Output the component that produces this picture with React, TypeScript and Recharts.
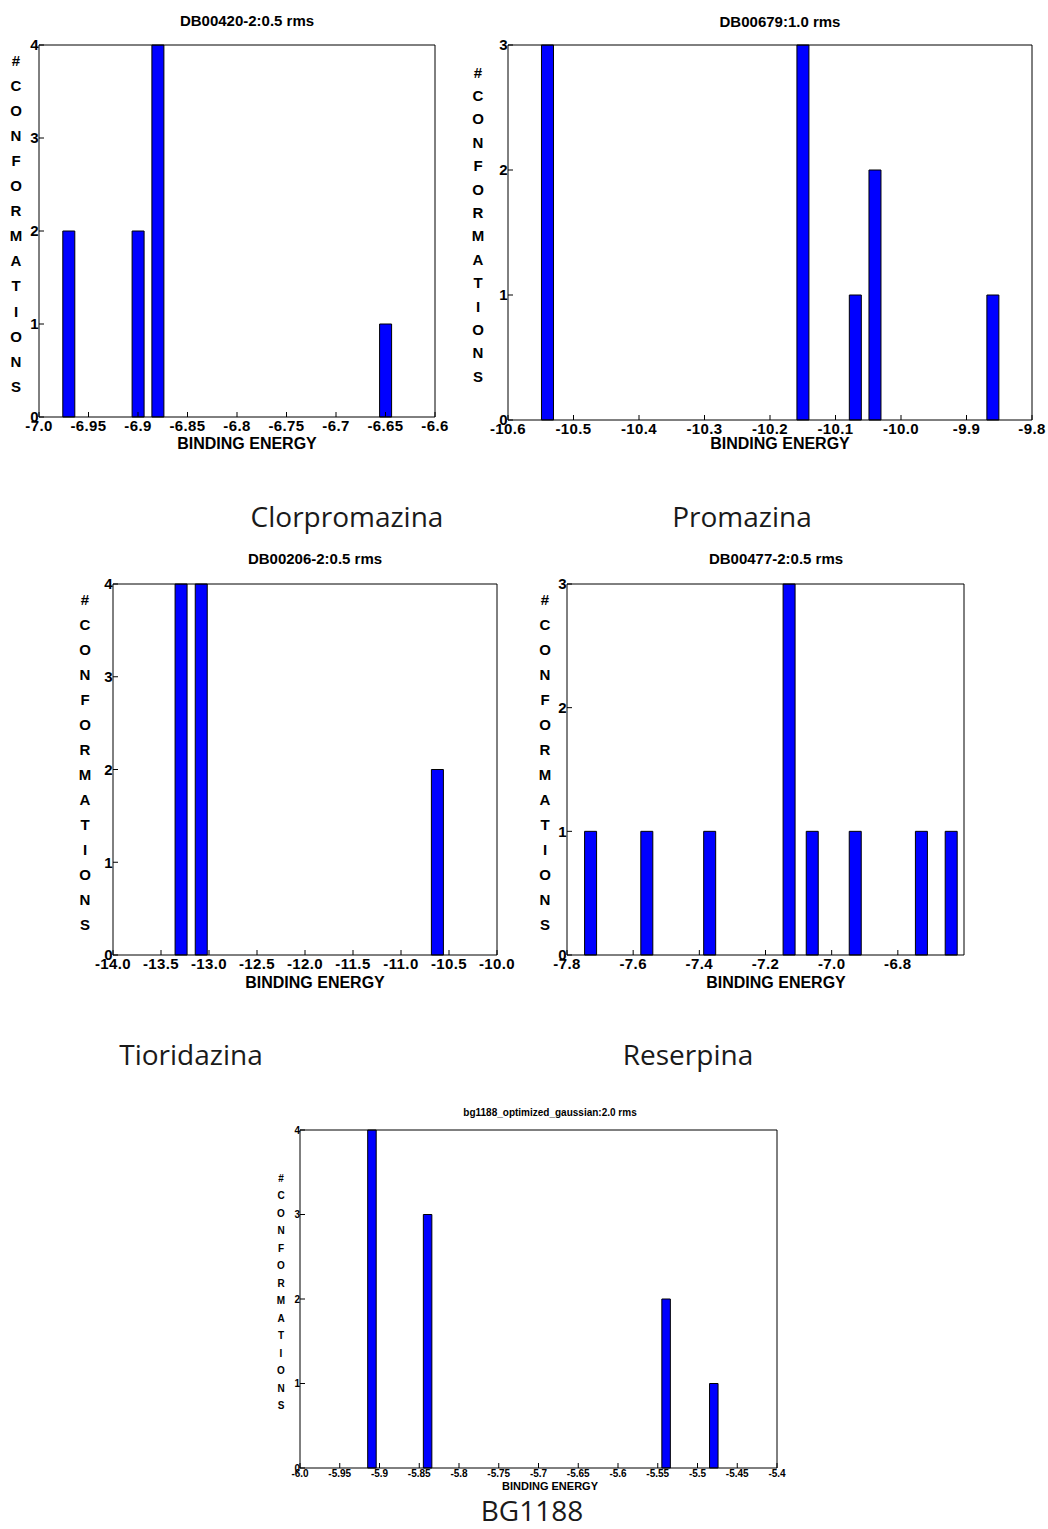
import React from "react";
import { Bar, BarChart, XAxis, YAxis } from "recharts";

// Clorpromazina
const CLOR_ENERGY = [-6.97, -6.9, -6.88, -6.65];
const CLOR_COUNT = [2, 2, 4, 1];
const CLOR_XTICKS = [-7.0, -6.95, -6.9, -6.85, -6.8, -6.75, -6.7, -6.65, -6.6];
const CLOR_YTICKS = [0, 1, 2, 3, 4];

// Promazina
const PROM_ENERGY = [-10.54, -10.15, -10.07, -10.04, -9.86];
const PROM_COUNT = [3, 3, 1, 2, 1];
const PROM_XTICKS = [-10.6, -10.5, -10.4, -10.3, -10.2, -10.1, -10.0, -9.9, -9.8];
const PROM_YTICKS = [0, 1, 2, 3];

// Tioridazina
const TIOR_ENERGY = [-13.29, -13.08, -10.62];
const TIOR_COUNT = [4, 4, 2];
const TIOR_XTICKS = [-14.0, -13.5, -13.0, -12.5, -12.0, -11.5, -11.0, -10.5, -10.0];
const TIOR_YTICKS = [0, 1, 2, 3, 4];

// Reserpina
const RES_ENERGY = [-7.73, -7.56, -7.37, -7.13, -7.06, -6.93, -6.73, -6.64];
const RES_COUNT = [1, 1, 1, 3, 1, 1, 1, 1];
const RES_XTICKS = [-7.8, -7.6, -7.4, -7.2, -7.0, -6.8];
const RES_YTICKS = [0, 1, 2, 3];

// BG1188
const BG_ENERGY = [-5.91, -5.84, -5.54, -5.48];
const BG_COUNT = [4, 3, 2, 1];
const BG_XTICKS = [-6.0, -5.95, -5.9, -5.85, -5.8, -5.75, -5.7, -5.65, -5.6, -5.55, -5.5, -5.45, -5.4];
const BG_YTICKS = [0, 1, 2, 3, 4];

const YLABEL = ["#", "C", "O", "N", "F", "O", "R", "M", "A", "T", "I", "O", "N", "S"];

const FONT = '"Liberation Sans", Arial, Helvetica, sans-serif';
const CAPTION_FONT = '"Open Sans", "Noto Sans", sans-serif';

const fmt = (v: number) => (Number.isInteger(v * 10) ? v.toFixed(1) : String(v));

type PanelProps = {
  energy: number[];
  counts: number[];
  xTicks: number[];
  xDomain: [number, number];
  yTicks: number[];
  left: number;
  top: number;
  width: number;
  height: number;
  barSize: number;
  fs: number;
  xGap: number;
  spacing: number;
};

const Panel = ({
  energy,
  counts,
  xTicks,
  xDomain,
  yTicks,
  left,
  top,
  width,
  height,
  barSize,
  fs,
  xGap,
  spacing,
}: PanelProps) => {
  const data = energy.map((x, i) => ({ x, n: counts[i] }));
  const yDomain: [number, number] = [0, yTicks[yTicks.length - 1]];
  const tickStyle = {
    fill: "#000",
    fontSize: fs,
    fontWeight: 700,
    fontFamily: FONT,
    letterSpacing: spacing,
  };
  return (
    <div style={{ position: "absolute", left: left - 40, top: top - 10 }}>
      <BarChart
        width={width + 70}
        height={height + 60}
        data={data}
        margin={{ top: 9, right: 29, bottom: 10, left: 10 }}
      >
        <XAxis
          type="number"
          dataKey="x"
          domain={xDomain}
          ticks={xTicks}
          interval={0}
          allowDataOverflow
          height={40}
          tickSize={-5}
          tickMargin={xGap}
          tickFormatter={fmt}
          tick={tickStyle}
          stroke="#000"
        />
        {/* box top edge, ticks only */}
        <XAxis
          xAxisId="top"
          orientation="top"
          type="number"
          dataKey="x"
          domain={xDomain}
          ticks={xTicks}
          interval={0}
          allowDataOverflow
          height={1}
          tickSize={-5}
          tick={false}
          stroke="#000"
        />
        <YAxis
          type="number"
          domain={yDomain}
          ticks={yTicks}
          interval={0}
          width={30}
          tickSize={-5}
          tickMargin={5}
          tick={tickStyle}
          stroke="#000"
        />
        {/* box right edge, ticks only */}
        <YAxis
          yAxisId="right"
          orientation="right"
          type="number"
          domain={yDomain}
          ticks={yTicks}
          interval={0}
          width={1}
          tickSize={-5}
          tick={false}
          stroke="#000"
        />
        <Bar
          dataKey="n"
          fill="#0000FF"
          stroke="#000"
          strokeWidth={1}
          barSize={barSize}
          isAnimationActive={false}
        />
      </BarChart>
    </div>
  );
};

type TextSpec = {
  title: string;
  cx: number;
  titleY: number;
  titleFs: number;
  labelY: number;
  labelFs: number;
  lettersX: number;
  lettersY: number;
  letterStep: number;
  letterFs: number;
};

const PanelText = ({ t }: { t: TextSpec }) => (
  <g fontFamily={FONT} fontWeight={700} fill="#000">
    <text x={t.cx} y={t.titleY} fontSize={t.titleFs} textAnchor="middle">
      {t.title}
    </text>
    <text x={t.cx} y={t.labelY} fontSize={t.labelFs} textAnchor="middle">
      BINDING ENERGY
    </text>
    {YLABEL.map((ch, i) => (
      <text
        key={i}
        x={t.lettersX}
        y={t.lettersY + i * t.letterStep}
        fontSize={t.letterFs}
        textAnchor="middle"
        dominantBaseline="central"
      >
        {ch}
      </text>
    ))}
  </g>
);

const TEXTS: TextSpec[] = [
  { title: "DB00420-2:0.5 rms", cx: 247, titleY: 26, titleFs: 15, labelY: 449, labelFs: 16, lettersX: 16, lettersY: 60, letterStep: 25.1, letterFs: 15 },
  { title: "DB00679:1.0 rms", cx: 780, titleY: 27, titleFs: 15, labelY: 449, labelFs: 16, lettersX: 478, lettersY: 72, letterStep: 23.4, letterFs: 15 },
  { title: "DB00206-2:0.5 rms", cx: 315, titleY: 564, titleFs: 15, labelY: 988, labelFs: 16, lettersX: 85, lettersY: 599, letterStep: 25, letterFs: 15 },
  { title: "DB00477-2:0.5 rms", cx: 776, titleY: 564, titleFs: 15, labelY: 988, labelFs: 16, lettersX: 545, lettersY: 599, letterStep: 25, letterFs: 15 },
  { title: "bg1188_optimized_gaussian:2.0 rms", cx: 550, titleY: 1116, titleFs: 10, labelY: 1490, labelFs: 11, lettersX: 281, lettersY: 1178, letterStep: 17.5, letterFs: 10 },
];

const CAPTIONS = [
  { text: "Clorpromazina", x: 347, y: 527 },
  { text: "Promazina", x: 742, y: 527 },
  { text: "Tioridazina", x: 191, y: 1065 },
  { text: "Reserpina", x: 688, y: 1065 },
  { text: "BG1188", x: 532, y: 1521 },
];

export default function App() {
  return (
    <div
      style={{
        position: "absolute",
        left: 0,
        top: 0,
        width: 1048,
        height: 1529,
        background: "#fff",
        overflow: "hidden",
      }}
    >
      <Panel energy={CLOR_ENERGY} counts={CLOR_COUNT} xTicks={CLOR_XTICKS} xDomain={[-7.0, -6.6]} yTicks={CLOR_YTICKS}
        left={39} top={45} width={396} height={372} barSize={12} fs={15} xGap={8} spacing={0.4} />
      <Panel energy={PROM_ENERGY} counts={PROM_COUNT} xTicks={PROM_XTICKS} xDomain={[-10.6, -9.8]} yTicks={PROM_YTICKS}
        left={508} top={45} width={524} height={375} barSize={12} fs={15} xGap={8} spacing={0.4} />
      <Panel energy={TIOR_ENERGY} counts={TIOR_COUNT} xTicks={TIOR_XTICKS} xDomain={[-14.0, -10.0]} yTicks={TIOR_YTICKS}
        left={113} top={584} width={384} height={371} barSize={12} fs={15} xGap={8} spacing={0.4} />
      <Panel energy={RES_ENERGY} counts={RES_COUNT} xTicks={RES_XTICKS} xDomain={[-7.8, -6.6]} yTicks={RES_YTICKS}
        left={567} top={584} width={397} height={371} barSize={12} fs={15} xGap={8} spacing={0.4} />
      <Panel energy={BG_ENERGY} counts={BG_COUNT} xTicks={BG_XTICKS} xDomain={[-6.0, -5.4]} yTicks={BG_YTICKS}
        left={300} top={1130} width={477} height={338} barSize={8.5} fs={10} xGap={7} spacing={0} />
      <svg
        width={1048}
        height={1529}
        style={{ position: "absolute", left: 0, top: 0, pointerEvents: "none" }}
      >
        {TEXTS.map((t, i) => (
          <PanelText key={i} t={t} />
        ))}
        {CAPTIONS.map((c, i) => (
          <text key={i} x={c.x} y={c.y} fontFamily={CAPTION_FONT} fontSize={28} fill="#1a1a1a" textAnchor="middle">
            {c.text}
          </text>
        ))}
      </svg>
    </div>
  );
}
